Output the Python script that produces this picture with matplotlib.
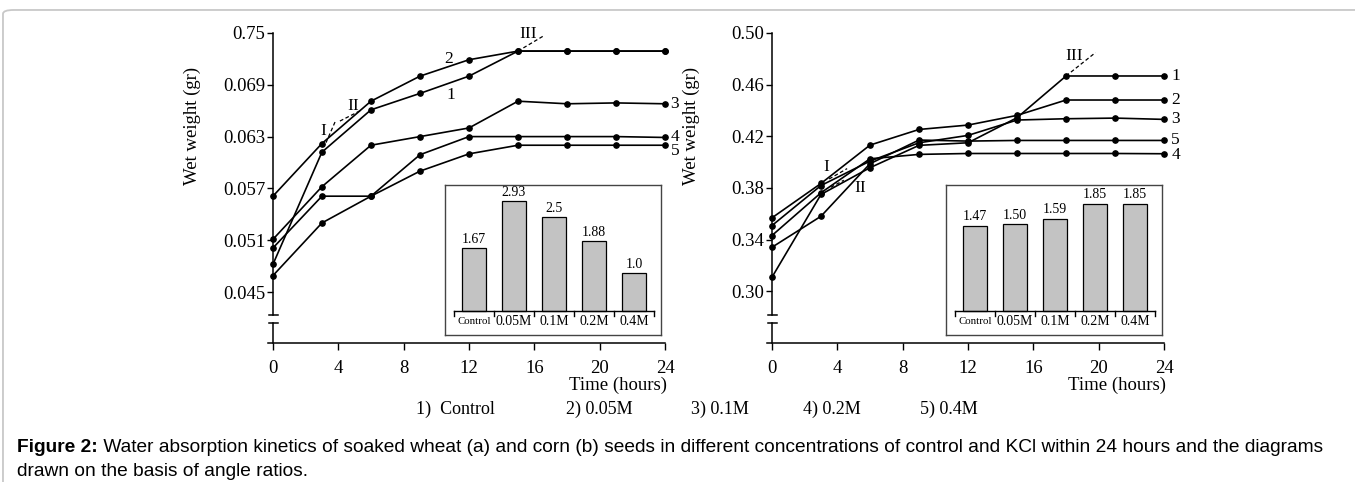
import matplotlib
matplotlib.use('Agg')
import matplotlib.pyplot as plt
from matplotlib.patches import FancyBboxPatch

plt.rcParams['font.family'] = ['Liberation Serif', 'DejaVu Serif']

hours = [0, 3, 6, 9, 12, 15, 18, 21, 24]

# wheat (a), wet weight in gr, lines 1..5
wheat_1 = [0.0482, 0.0612, 0.0661, 0.0680, 0.0700, 0.0729, 0.0729, 0.0729, 0.0729]
wheat_2 = [0.0561, 0.0622, 0.0671, 0.0700, 0.0719, 0.0729, 0.0729, 0.0729, 0.0729]
wheat_3 = [0.0511, 0.0572, 0.0620, 0.0630, 0.0640, 0.0671, 0.0668, 0.0669, 0.0668]
wheat_4 = [0.0501, 0.0561, 0.0561, 0.0609, 0.0630, 0.0630, 0.0630, 0.0630, 0.0629]
wheat_5 = [0.0469, 0.0530, 0.0561, 0.0590, 0.0610, 0.0620, 0.0620, 0.0620, 0.0620]

# corn (b)
corn_1 = [0.3109, 0.3750, 0.3957, 0.4130, 0.4150, 0.4344, 0.4667, 0.4667, 0.4667]
corn_2 = [0.3569, 0.3835, 0.4132, 0.4253, 0.4287, 0.4362, 0.4481, 0.4481, 0.4481]
corn_3 = [0.3509, 0.3819, 0.4008, 0.4150, 0.4207, 0.4326, 0.4336, 0.4341, 0.4331]
corn_4 = [0.3432, 0.3763, 0.4026, 0.4060, 0.4067, 0.4067, 0.4067, 0.4067, 0.4065]
corn_5 = [0.3341, 0.3581, 0.3988, 0.4171, 0.4163, 0.4168, 0.4168, 0.4168, 0.4168]

# angle ratios (insets)
conc = ['Control', '0.05M', '0.1M', '0.2M', '0.4M']
wheat_ratio = [1.67, 2.93, 2.5, 1.88, 1.0]
wheat_ratio_txt = ['1.67', '2.93', '2.5', '1.88', '1.0']
corn_ratio = [1.47, 1.50, 1.59, 1.85, 1.85]
corn_ratio_txt = ['1.47', '1.50', '1.59', '1.85', '1.85']

wheat_yticks = [0.045, 0.051, 0.057, 0.063, 0.069, 0.075]
wheat_yticklabels = ['0.045', '0.051', '0.057', '0.063', '0.069', '0.75']
corn_yticks = [0.30, 0.34, 0.38, 0.42, 0.46, 0.50]
corn_yticklabels = ['0.30', '0.34', '0.38', '0.42', '0.46', '0.50']

# line labels: (text, hour, weight)
wheat_marks = [('2', 10.75, 0.0720), ('1', 10.9, 0.0678), ('3', 24.6, 0.0668),
               ('4', 24.6, 0.0630), ('5', 24.6, 0.0613),
               ('I', 3.1, 0.0637), ('II', 4.9, 0.0666), ('III', 15.6, 0.0749)]
corn_marks = [('1', 24.7, 0.4667), ('2', 24.7, 0.4481), ('3', 24.7, 0.4331),
              ('5', 24.7, 0.4170), ('4', 24.7, 0.4056),
              ('I', 3.3, 0.3960), ('II', 5.4, 0.3800), ('III', 18.5, 0.4820)]
# dashed angle guides: ([h0, h1], [w0, w1])
wheat_guides = [([3.25, 3.85], [0.0623, 0.0649]), ([4.1, 5.45], [0.0648, 0.0661]),
                ([15.0, 16.6], [0.0729, 0.0747])]
corn_guides = [([3.5, 4.6], [0.3870, 0.3950]), ([3.6, 4.4], [0.3805, 0.3860]),
               ([18.0, 19.8], [0.4667, 0.4848])]

fig = plt.figure(figsize=(13.55, 4.82), dpi=100)

BRK_LO, BRK_HI = 0.0655, 0.0903  # axis break, axes fraction


def panel(left, series, ylim, yticks, yticklabels, marks, guides):
    ax = fig.add_axes([left, 0.2884, 0.2930, 0.6432])
    for s in series:
        ax.plot(hours, s, color='black', lw=1.2, marker='o', ms=3.8, clip_on=False)
    for hx, wy in guides:
        ax.plot(hx, wy, color='black', lw=0.9, ls=(0, (3, 2)))
    for t, hx, wy in marks:
        ax.text(hx, wy, t, fontsize=12.5, ha='center', va='center')
    ax.set_xlim(-0.3, 24)
    ax.set_ylim(*ylim)
    ax.set_xticks([0, 4, 8, 12, 16, 20, 24])
    ax.set_yticks(yticks, yticklabels)
    ax.tick_params(axis='x', direction='out', length=5, width=1, labelsize=13.5, pad=7)
    ax.tick_params(axis='y', direction='out', length=4.5, width=1, labelsize=13.5, pad=1)
    for side in ['top', 'right']:
        ax.spines[side].set_visible(False)
    ax.spines['bottom'].set_linewidth(1.1)
    ax.spines['left'].set_position(('data', 0))
    ax.spines['left'].set_linewidth(1.1)
    y0, y1 = ylim
    hi = y0 + BRK_HI * (y1 - y0)
    lo = y0 + BRK_LO * (y1 - y0)
    ax.spines['left'].set_bounds(hi, y1)
    ax.plot([0, 0], [y0, lo], color='black', lw=1.1, clip_on=False)
    for b in (lo, hi):
        ax.plot([-0.25, 0.3], [b, b], color='black', lw=1.1, clip_on=False)
    ax.set_ylabel('Wet weight (gr)', fontsize=13.5)
    ax.yaxis.set_label_coords(-0.17, 0.70)
    ax.text(1.005, -0.135, 'Time (hours)', transform=ax.transAxes,
            fontsize=13.5, ha='right', va='center')
    return ax


def inset(left, ratio, ratio_txt, ylim):
    ax = fig.add_axes([left, 0.3050, 0.1594, 0.3112])
    x = range(len(conc))
    ax.bar(x, ratio, width=0.6, color='#c3c3c3', edgecolor='black', lw=0.9)
    for i, t in enumerate(ratio_txt):
        ax.annotate(t, (i, ratio[i]), xytext=(0, 1.5), textcoords='offset points',
                    ha='center', va='bottom', fontsize=10)
    ax.plot([-0.5, 4.5], [0, 0], color='black', lw=1)
    for b in [-0.5, 0.5, 1.5, 2.5, 3.5, 4.5]:
        ax.plot([b, b], [0, -0.035 * (ylim[1] - ylim[0])], color='black', lw=1)
    for i, c in enumerate(conc):
        ax.annotate(c, (i, 0), xytext=(0, -8), textcoords='offset points',
                    ha='center', va='center', fontsize=7.8 if c == 'Control' else 10)
    ax.set_xlim(-0.72, 4.67)
    ax.set_ylim(*ylim)
    ax.set_xticks([])
    ax.set_yticks([])
    for sp in ax.spines.values():
        sp.set_color('#444444')
        sp.set_linewidth(1)


panel(0.1978, [wheat_1, wheat_2, wheat_3, wheat_4, wheat_5], (0.0391, 0.075),
      wheat_yticks, wheat_yticklabels, wheat_marks, wheat_guides)
panel(0.5661, [corn_1, corn_2, corn_3, corn_4, corn_5], (0.26, 0.50),
      corn_yticks, corn_yticklabels, corn_marks, corn_guides)
inset(0.3284, wheat_ratio, wheat_ratio_txt, (-0.65, 3.37))
inset(0.6982, corn_ratio, corn_ratio_txt, (-0.42, 2.17))

# concentration key
key = ['1)  Control', '2) 0.05M', '3) 0.1M', '4) 0.2M', '5) 0.4M']
key_x = [0.3070, 0.4177, 0.5100, 0.5926, 0.6790]
for t, kx in zip(key, key_x):
    fig.text(kx, 0.151, t, fontsize=13, ha='left', va='center')

# caption
cap_font = 'Liberation Sans'
cap_size = 13.8
t1 = fig.text(0.0125, 0.0726, 'Figure 2:', fontsize=cap_size, fontweight='bold',
              family=cap_font, ha='left', va='center')
r = fig.canvas.get_renderer()
w = t1.get_window_extent(r).width / fig.bbox.width
fig.text(0.0125 + w, 0.0726, ' Water absorption kinetics of soaked wheat (a) and corn (b) seeds in '
         'different concentrations of control and KCl within 24 hours and the diagrams',
         fontsize=cap_size, family=cap_font, ha='left', va='center')
fig.text(0.0125, 0.0228, 'drawn on the basis of angle ratios.', fontsize=cap_size,
         family=cap_font, ha='left', va='center')

frame = FancyBboxPatch((0.0022, -0.1), 1.2, 0.9793 + 0.1,
                       boxstyle='round,pad=0,rounding_size=0.008',
                       transform=fig.transFigure, fill=False, ec='#c8c8c8', lw=1.3)
fig.patches.append(frame)

fig.savefig('out.png', dpi=100)
